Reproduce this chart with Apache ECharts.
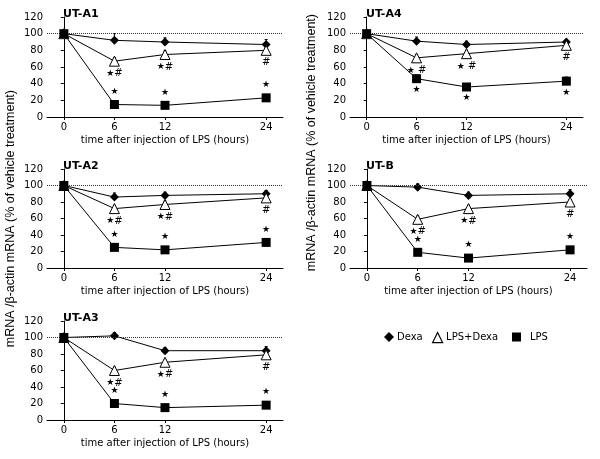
<!DOCTYPE html>
<html><head><meta charset="utf-8">
<script src="https://cdn.jsdelivr.net/npm/echarts@6/dist/echarts.min.js"></script>
<style>html,body{margin:0;padding:0;background:#fff}#c{width:600px;height:459px}</style>
</head><body><div id="c"></div>
<script>
// ---- data ----
const hours = [0, 6, 12, 24];
const yTicks = [0, 20, 40, 60, 80, 100, 120];
const seriesNames = ['Dexa', 'LPS+Dexa', 'LPS'];
const panelNames = ['UT-A1', 'UT-A4', 'UT-A2', 'UT-B', 'UT-A3'];

const utA1_dexa = [100, 92, 90, 87];
const utA1_lpsDexa = [100, 67, 75, 80];
const utA1_lps = [100, 15, 14, 23];

const utA4_dexa = [100, 91, 87, 90];
const utA4_lpsDexa = [100, 71, 76, 86];
const utA4_lps = [100, 46, 36, 43];

const utA2_dexa = [100, 86, 88, 90];
const utA2_lpsDexa = [100, 72, 77, 85];
const utA2_lps = [100, 25, 22, 31];

const utB_dexa = [100, 98, 88, 90];
const utB_lpsDexa = [100, 59, 72, 80];
const utB_lps = [100, 19, 12, 22];

const utA3_dexa = [100, 102, 84, 84];
const utA3_lpsDexa = [100, 60, 70, 79];
const utA3_lps = [100, 20, 15, 18];

// upper error bars (SEM), estimated
const utA1_err = [[4, 8, 5, 6], [3, 4, 4, 3], [3, 4, 3, 4]];
const utA4_err = [[4, 5, 4, 3], [3, 4, 4, 3], [3, 4, 4, 5]];
const utA2_err = [[4, 5, 4, 4], [3, 4, 4, 3], [3, 3, 3, 4]];
const utB_err = [[4, 4, 4, 5], [3, 4, 4, 3], [3, 3, 3, 4]];
const utA3_err = [[4, 4, 4, 5], [3, 4, 3, 3], [3, 3, 3, 3]];

// significance marks
const mk_lpsDexa = ['', '*#', '*#', '#'];
const mk_lpsDexaA4 = ['', '* #', '* #', '#'];
const mk_lps = ['', '*', '*', '*'];

const panels = [
  {name: panelNames[0], vals: [utA1_dexa, utA1_lpsDexa, utA1_lps], err: utA1_err, mLD: mk_lpsDexa, mL: mk_lps, lpsPos: 'top'},
  {name: panelNames[1], vals: [utA4_dexa, utA4_lpsDexa, utA4_lps], err: utA4_err, mLD: mk_lpsDexaA4, mL: mk_lps, lpsPos: 'bottom'},
  {name: panelNames[2], vals: [utA2_dexa, utA2_lpsDexa, utA2_lps], err: utA2_err, mLD: mk_lpsDexa, mL: mk_lps, lpsPos: 'top'},
  {name: panelNames[3], vals: [utB_dexa, utB_lpsDexa, utB_lps], err: utB_err, mLD: mk_lpsDexa, mL: mk_lps, lpsPos: 'top'},
  {name: panelNames[4], vals: [utA3_dexa, utA3_lpsDexa, utA3_lps], err: utA3_err, mLD: mk_lpsDexa, mL: mk_lps, lpsPos: 'top'}
];

// ---- layout ----
const grids = [
  {left: 47, top: 17, width: 236, height: 100},
  {left: 350, top: 17, width: 233, height: 100},
  {left: 47, top: 169, width: 236, height: 99},
  {left: 350, top: 169, width: 237, height: 99},
  {left: 47, top: 321, width: 236, height: 99}
];

const FONT = 'DejaVu Sans';
const symbols = ['diamond', 'triangle', 'rect'];
const symSizes = [9, 10, 9];

function markFmt(arr) {
  return function (p) {
    const s = arr[p.dataIndex] || '';
    if (!s) return '';
    return s.split('').map(ch => ch === '*' ? '{s|★}' : (ch === '#' ? '{h|#}' : '{h| }')).join('');
  };
}
const richMarks = {
  s: {fontSize: 9, fontFamily: FONT, color: '#000'},
  h: {fontSize: 10, fontFamily: FONT, color: '#000'}
};

const xAxes = [], yAxes = [], series = [], titles = [];
panels.forEach((pn, gi) => {
  xAxes.push({
    type: 'value', gridIndex: gi, min: -2, max: 26,
    axisLine: {lineStyle: {color: '#000', width: 1}},
    axisTick: {show: true, length: 3, customValues: hours, lineStyle: {color: '#000'}},
    axisLabel: {customValues: hours, color: '#000', fontFamily: FONT, fontSize: 10, margin: 5},
    splitLine: {show: false},
    name: 'time after injection of LPS (hours)', nameLocation: 'middle', nameGap: 18,
    nameTextStyle: {color: '#000', fontFamily: FONT, fontSize: 10}
  });
  yAxes.push({
    type: 'value', gridIndex: gi, min: 0, max: 120, interval: 20,
    axisLine: {show: true, lineStyle: {color: '#000', width: 1}},
    axisTick: {show: true, length: 3, lineStyle: {color: '#000'}},
    axisLabel: {color: '#000', fontFamily: FONT, fontSize: 10, margin: 4},
    splitLine: {show: false}
  });
  titles.push({
    text: pn.name, left: grids[gi].left + 16, top: grids[gi].top - 8, padding: 0,
    textStyle: {fontFamily: FONT, fontSize: 11, fontWeight: 'bold', color: '#000'}
  });
  // error bars
  pn.vals.forEach((vals, si) => {
    series.push({
      type: 'custom', xAxisIndex: gi, yAxisIndex: gi, silent: true, z: 1,
      data: hours.map((h, i) => [h, vals[i], pn.err[si][i]]),
      renderItem: function (params, api) {
        const x = api.value(0), y = api.value(1), e = api.value(2);
        const p0 = api.coord([x, y]);
        const p1 = api.coord([x, y + e]);
        return {type: 'group', children: [
          {type: 'line', shape: {x1: p0[0], y1: p0[1], x2: p1[0], y2: p1[1]}, style: {stroke: '#000', lineWidth: 1}},
          {type: 'line', shape: {x1: p1[0] - 1.5, y1: p1[1], x2: p1[0] + 1.5, y2: p1[1]}, style: {stroke: '#000', lineWidth: 1}}
        ]};
      }
    });
  });
  // order: LPS, Dexa, LPS+Dexa (triangle on top)
  [2, 0, 1].forEach(si => {
    const s = {
      type: 'line', name: seriesNames[si], xAxisIndex: gi, yAxisIndex: gi,
      data: hours.map((h, i) => [h, pn.vals[si][i]]),
      symbol: symbols[si], symbolSize: symSizes[si], showAllSymbol: true,
      lineStyle: {color: '#000', width: 1},
      itemStyle: {color: si === 1 ? '#fff' : '#000', borderColor: '#000', borderWidth: si === 1 ? 1 : 0},
      z: 3 + si, animation: false
    };
    if (si === 1) {
      s.label = {show: true, position: 'bottom', distance: 2, formatter: markFmt(pn.mLD), rich: richMarks};
    }
    if (si === 2) {
      s.label = {show: true, position: pn.lpsPos, distance: pn.lpsPos === 'top' ? 4 : 2, formatter: markFmt(pn.mL), rich: richMarks};
      s.markLine = {
        silent: true, symbol: 'none', label: {show: false},
        lineStyle: {color: '#333', type: [1, 1], width: 1},
        data: [{yAxis: 100}]
      };
    }
    series.push(s);
  });
});

const legIcons = {
  'Dexa': 'path://M5,0 L10,5 L5,10 L0,5 Z',
  'LPS+Dexa': 'path://M5,0 L10,10 L0,10 Z',
  'LPS': 'rect'
};
const legends = [
  {left: 379, top: 327, name: 'Dexa', w: 10, h: 10, pad: -2},
  {left: 427, top: 327, name: 'LPS+Dexa', w: 11, h: 10, pad: -2},
  {left: 507, top: 327, name: 'LPS', w: 9, h: 9, pad: 4}
].map(l => ({
  left: l.left, top: l.top, orient: 'horizontal', selectedMode: false,
  itemWidth: l.w, itemHeight: l.h, itemGap: 4,
  data: [{name: l.name, icon: legIcons[l.name], itemStyle: l.name === 'LPS+Dexa' ? {color: '#fff', borderColor: '#000', borderWidth: 1.2} : {color: '#000'}}],
  textStyle: {fontFamily: FONT, fontSize: 10, color: '#000', padding: [0, 0, 0, l.pad]}
}));

const chart = echarts.init(document.getElementById('c'), null, {renderer: 'canvas'});
chart.setOption({
  animation: false,
  backgroundColor: '#fff',
  title: titles,
  grid: grids,
  xAxis: xAxes,
  yAxis: yAxes,
  legend: legends,
  series: series,
  graphic: [
    {type: 'text', left: 4, top: 90, rotation: Math.PI / 2,
     style: {text: 'mRNA /β-actin mRNA (% of vehicle treatment)', fontFamily: 'Liberation Sans', fontSize: 12.5, fill: '#000'}},
    {type: 'text', left: 305, top: 14, rotation: Math.PI / 2,
     style: {text: 'mRNA /β-actin mRNA (% of vehicle treatment)', fontFamily: 'Liberation Sans', fontSize: 12.5, fill: '#000'}}
  ]
});
</script></body></html>
